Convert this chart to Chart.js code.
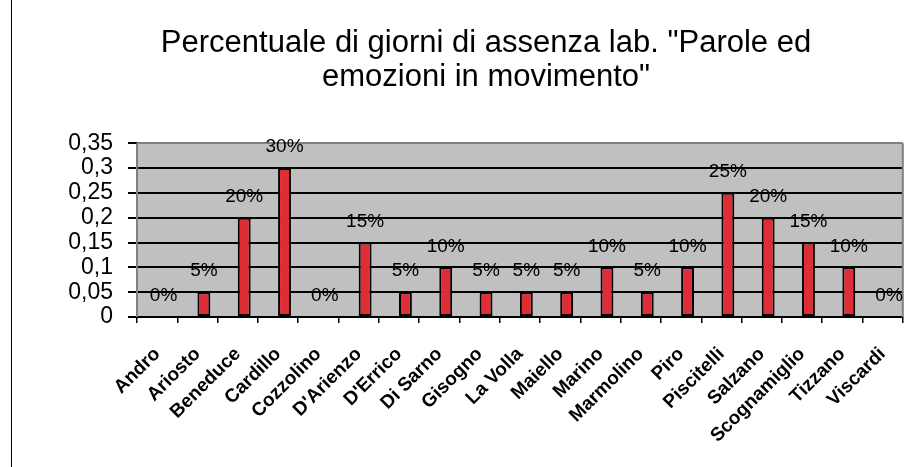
<!DOCTYPE html>
<html>
<head>
<meta charset="utf-8">
<script src="https://cdn.jsdelivr.net/npm/chart.js@4.4.1/dist/chart.umd.min.js"></script>
<style>
  html, body { margin: 0; padding: 0; background: #ffffff; }
  #wrap { width: 919px; height: 467px; position: relative; }
</style>
</head>
<body>
<div id="wrap"><canvas id="c" width="919" height="467"></canvas></div>
<script>
const titleLines = ['Percentuale di giorni di assenza lab. "Parole ed', 'emozioni in movimento"'];
const categories = ['Andro', 'Ariosto', 'Beneduce', 'Cardillo', 'Cozzolino', "D'Arienzo", "D'Errico", 'Di Sarno', 'Gisogno', 'La Volla', 'Maiello', 'Marino', 'Marmolino', 'Piro', 'Piscitelli', 'Salzano', 'Scognamiglio', 'Tizzano', 'Viscardi'];
const absenceShare = [0, 0.05, 0.2, 0.3, 0, 0.15, 0.05, 0.1, 0.05, 0.05, 0.05, 0.1, 0.05, 0.1, 0.25, 0.2, 0.15, 0.1, 0];
const emptySeries = categories.map(() => null);
const yTickLabels = ['0', '0,05', '0,1', '0,15', '0,2', '0,25', '0,3', '0,35'];

const FONT = '"Liberation Sans", Arial, sans-serif';

const decorPlugin = {
  id: 'decor',
  beforeDraw(chart) {
    const ctx = chart.ctx, a = chart.chartArea;
    ctx.save();
    ctx.fillStyle = '#ffffff';
    ctx.fillRect(0, 0, chart.width, chart.height);
    ctx.fillStyle = '#c0c0c0';
    ctx.fillRect(a.left, a.top, a.right - a.left, a.bottom - a.top);
    ctx.fillStyle = '#000000';
    ctx.fillRect(11, 0, 1, chart.height);
    ctx.restore();
  },
  afterDraw(chart) {
    const ctx = chart.ctx, a = chart.chartArea;
    ctx.save();
    ctx.strokeStyle = '#808080';
    ctx.lineWidth = 2;
    ctx.beginPath();
    ctx.moveTo(a.left, a.top);
    ctx.lineTo(a.left, a.bottom);
    ctx.moveTo(a.right, a.top);
    ctx.lineTo(a.right, a.bottom);
    ctx.stroke();
    // data labels
    const meta = chart.getDatasetMeta(1);
    ctx.fillStyle = '#000000';
    ctx.font = '19px ' + FONT;
    ctx.textAlign = 'center';
    ctx.textBaseline = 'middle';
    meta.data.forEach((el, i) => {
      const v = absenceShare[i];
      ctx.fillText(Math.round(v * 100) + '%', el.x, el.y - 21);
    });
    ctx.restore();
  }
};

new Chart(document.getElementById('c'), {
  type: 'bar',
  data: {
    labels: categories,
    datasets: [
      { label: '', data: emptySeries, backgroundColor: 'rgba(0,0,0,0)' },
      { label: 'Assenze', data: absenceShare, backgroundColor: '#dd2d36', borderColor: '#000000', borderWidth: 2, borderSkipped: false }
    ]
  },
  options: {
    responsive: false,
    animation: false,
    devicePixelRatio: 1,
    categoryPercentage: 0.64,
    barPercentage: 1,
    layout: { padding: { left: 62, right: 9, top: 0, bottom: 0 } },
    plugins: {
      legend: { display: false },
      tooltip: { enabled: false },
      title: {
        display: true,
        text: titleLines,
        color: '#000000',
        font: { family: FONT, size: 31, weight: 'normal', lineHeight: 1.1 },
        padding: { top: 26, bottom: 49 }
      }
    },
    scales: {
      x: {
        afterFit(scale) { scale.height = 150; },
        grid: { display: true, offset: true, drawOnChartArea: false, color: '#000000', lineWidth: 1.5, tickLength: 6 },
        border: { display: true, color: '#000000', width: 2 },
        ticks: {
          color: '#000000',
          minRotation: 45,
          maxRotation: 45,
          autoSkip: false,
          padding: 20,
          font: { family: FONT, size: 19, weight: 'bold' }
        }
      },
      y: {
        min: 0,
        max: 0.35,
        afterFit(scale) { scale.width = 75; },
        grid: {
          color: (c) => (c.index === yTickLabels.length - 1 ? '#808080' : '#000000'),
          tickColor: '#000000',
          lineWidth: 2,
          tickLength: 9
        },
        border: { display: false },
        ticks: {
          stepSize: 0.05,
          autoSkip: false,
          color: '#000000',
          padding: 15,
          font: { family: FONT, size: 23, weight: 'normal', lineHeight: 1 },
          callback: (v, i) => yTickLabels[i]
        }
      }
    }
  },
  plugins: [decorPlugin]
});
</script>
</body>
</html>
